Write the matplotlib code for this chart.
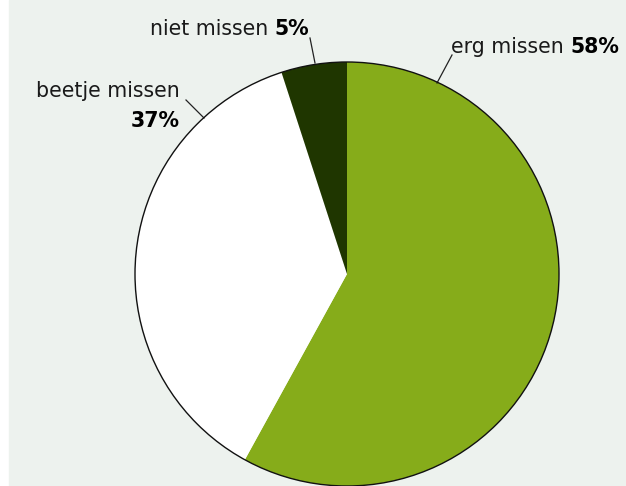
import matplotlib.pyplot as plt
from matplotlib.patches import Circle, Rectangle

# data
labels = ['erg missen', 'beetje missen', 'niet missen']
shares = [58, 37, 5]
colors = ['#86ac1a', '#ffffff', '#1f3600']

bg = '#edf2ee'
W, H = 626, 486
fig = plt.figure(figsize=(W / 100, H / 100), dpi=100)
ax = fig.add_axes([0, 0, 1, 1])
ax.add_patch(Rectangle((9, 0), W - 9, H, color=bg, zorder=0))

cx, cy, r = 347, H - 274, 212
ax.pie(shares, colors=colors, startangle=90, counterclock=False,
       center=(cx, cy), radius=r, frame=True,
       wedgeprops=dict(linewidth=0))
ax.set_xlim(0, W)
ax.set_ylim(0, H)
ax.set_aspect('equal')
ax.axis('off')
ax.add_patch(Circle((cx, cy), r, fill=False, ec='#111111', lw=1.0, zorder=5))

fs = 14.8
fam = 'DejaVu Sans'

def flip(y):
    return H - y

# leader lines
ax.plot([437, 452], [flip(83), flip(55)], color='#222222', lw=0.9)
ax.plot([315, 310], [flip(63), flip(38)], color='#222222', lw=0.9)
ax.plot([204, 186], [flip(118), flip(100)], color='#222222', lw=0.9)

fig.canvas.draw()
rend = fig.canvas.get_renderer()

def pair(x, y, normal, bold, align='left'):
    # normal text followed by bold percentage on one baseline
    if align == 'left':
        t1 = ax.text(x, y, normal + ' ', fontsize=fs, family=fam, color='#1a1a1a',
                     ha='left', va='baseline')
        bb = t1.get_window_extent(rend)
        x2 = ax.transData.inverted().transform((bb.x1, 0))[0]
        ax.text(x2, y, bold, fontsize=fs, family=fam, weight='heavy',
                color='#000000', ha='left', va='baseline')
    else:
        t2 = ax.text(x, y, bold, fontsize=fs, family=fam, weight='heavy',
                     color='#000000', ha='right', va='baseline')
        bb = t2.get_window_extent(rend)
        x1 = ax.transData.inverted().transform((bb.x0, 0))[0]
        ax.text(x1, y, normal + ' ', fontsize=fs, family=fam, color='#1a1a1a',
                ha='right', va='baseline')

pair(451, flip(53), labels[0], f'{shares[0]}%', 'left')
pair(309, flip(35), labels[2], f'{shares[2]}%', 'right')
ax.text(180, flip(97), labels[1], fontsize=fs, family=fam, color='#1a1a1a',
        ha='right', va='baseline')
ax.text(180, flip(127), f'{shares[1]}%', fontsize=fs, family=fam, weight='heavy',
        color='#000000', ha='right', va='baseline')

fig.savefig('out.png', dpi=100, facecolor='white')
